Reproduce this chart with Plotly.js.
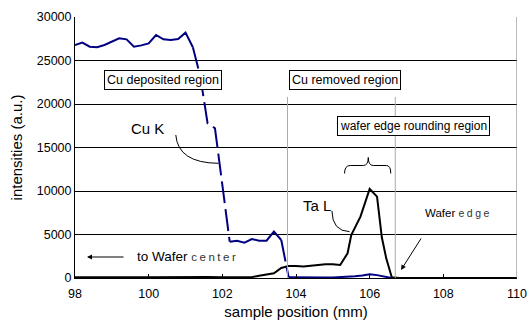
<!DOCTYPE html>
<html><head><meta charset="utf-8">
<script src="https://cdn.plot.ly/plotly-3.0.1.min.js"></script>
<style>body{margin:0;background:#fff}#c{width:529px;height:325px}</style>
</head><body><div id="c"></div>
<script>
// Cu K intensity (blue)
var cuX = [98.0,98.2,98.4,98.6,98.8,99.0,99.2,99.4,99.6,99.8,100.0,100.2,100.4,100.6,100.8,101.0,101.2,101.4,101.6,101.8,102.0,102.2,102.4,102.6,102.8,103.0,103.2,103.4,103.6,103.8,104.0,104.2,104.4,104.6,104.8,105.0,105.2,105.4,105.6,105.8,106.0,106.2,106.4,106.6];
var cuY = [26780,27050,26590,26520,26780,27160,27550,27430,26590,26740,26970,27930,27430,27360,27470,28200,26520,23200,17780,17210,10700,4170,4290,4060,4480,4290,4290,5330,4370,80,60,60,60,60,60,60,80,120,200,300,420,330,180,0];
// Ta L intensity (black)
var taX = [98.0,98.4,98.8,99.2,99.6,100.0,100.4,100.8,101.2,101.6,102.0,102.4,102.8,103.0,103.2,103.4,103.6,103.8,104.0,104.2,104.4,104.6,104.8,105.0,105.2,105.4,105.5,105.75,106.0,106.2,106.33,106.45,106.6,106.8,107.2,107.6,108.0,108.4,108.8,109.2,109.6,110.0];
var taY = [100,120,90,110,100,90,110,100,90,110,90,80,100,260,400,540,1150,1380,1380,1320,1420,1520,1570,1570,1490,2840,4940,7050,10230,9350,4680,2260,80,0,0,0,0,0,0,0,0,0];
var xTicks = [98,100,102,104,106,108,110];
var yTicks = [0,5000,10000,15000,20000,25000,30000];

// segments of the Cu curve that are drawn dashed (steep drops), by index ranges
var dashedRanges = [[16,21],[28,29]];
var solidRanges = [[0,16],[21,28],[29,cuX.length-1]];
var BLUE = '#000080';
var traces = [];
traces.push({x:taX, y:taY, mode:'lines', line:{color:'#000', width:2}, hoverinfo:'skip'});
solidRanges.forEach(function(r){
  traces.push({x:cuX.slice(r[0],r[1]+1), y:cuY.slice(r[0],r[1]+1), mode:'lines', line:{color:BLUE,width:2}, hoverinfo:'skip'});
});
dashedRanges.forEach(function(r){
  traces.push({x:cuX.slice(r[0],r[1]+1), y:cuY.slice(r[0],r[1]+1), mode:'lines', line:{color:BLUE,width:2,dash:'22px,6px'}, hoverinfo:'skip'});
});

// pixel -> data helpers for annotation geometry
var X0=75, XS=36.8, Y0=278, YS=8.7/1000;
function dx(px){return 98+(px-X0)/XS;}
function dy(py){return (Y0-py)/YS;}
function P(px,py){return dx(px)+','+dy(py);}

var FAM = '"Liberation Sans", Arial, sans-serif';
function F(s,c){return {family:FAM, color:c||'#000', size:s};}

var shapes = [
  {type:'line', xref:'x', yref:'y', x0:dx(287.3), x1:dx(287.3), y0:0, y1:dy(97), line:{color:'#aaa', width:1}},
  {type:'line', xref:'x', yref:'y', x0:dx(395), x1:dx(395), y0:0, y1:dy(97), line:{color:'#aaa', width:1}},
  {type:'line', xref:'x', yref:'y', x0:110, x1:110, y0:0, y1:30000, line:{color:'#777', width:1}},
  // curly brace over the Ta peak
  {type:'path', xref:'x', yref:'y', line:{color:'#000', width:1},
   path:'M'+P(344.3,173.5)+' Q'+P(344.3,165.5)+' '+P(350,165.5)+' L'+P(363,165.5)+' Q'+P(368,165.5)+' '+P(368,157.5)+' Q'+P(368,165.5)+' '+P(373,165.5)+' L'+P(386,165.5)+' Q'+P(390.5,165.5)+' '+P(390.5,173.5)},
  // leader for Cu K
  {type:'path', xref:'x', yref:'y', line:{color:'#000', width:1},
   path:'M'+P(175.7,135)+' Q'+P(178,163)+' '+P(218.3,163.3)},
  // leader for Ta L
  {type:'path', xref:'x', yref:'y', line:{color:'#000', width:1},
   path:'M'+P(331.7,211)+' Q'+P(332,231)+' '+P(349.3,231.7)}
];

var boxed = {bordercolor:'#000', borderwidth:1, bgcolor:'#fff', borderpad:2};
var annotations = [
  Object.assign({x:dx(162.5), y:dy(80), text:'Cu deposited region', showarrow:false, font:F(12.5)}, boxed),
  Object.assign({x:dx(344.5), y:dy(80), text:'Cu removed region', showarrow:false, font:F(12.5)}, boxed),
  Object.assign({x:dx(413.5), y:dy(126), text:'wafer edge rounding region', showarrow:false, font:F(12)}, boxed),
  {x:dx(147), y:dy(128), text:'Cu K', showarrow:false, font:F(15)},
  {x:dx(316.5), y:dy(205), text:'Ta L', showarrow:false, font:F(15)},
  {x:dx(135), y:dy(256), xanchor:'left', text:'to Wafer <span style="letter-spacing:2.5px;font-size:11.5px;fill:#333">center</span>', showarrow:false, font:F(13.5)},
  {x:dx(423), y:dy(213), xanchor:'left', text:'Wafer <span style="letter-spacing:2.5px;font-size:10.5px;fill:#333">edge</span>', showarrow:false, font:F(11.5)},
  {x:dx(87), y:dy(257), text:'', showarrow:true, arrowhead:2, arrowsize:1, arrowwidth:1, arrowcolor:'#000', ax:38, ay:0, standoff:0},
  {x:dx(400.7), y:dy(270), text:'', showarrow:true, arrowhead:2, arrowsize:1, arrowwidth:1, arrowcolor:'#000', ax:21, ay:-33, standoff:0}
];

var layout = {
  width:529, height:325,
  margin:{l:75, r:12, t:17, b:47},
  paper_bgcolor:'#fff', plot_bgcolor:'#fff',
  showlegend:false,
  font:F(12),
  xaxis:{range:[98,110], tickvals:xTicks, ticktext:xTicks.map(String), showgrid:false, zeroline:false,
         showline:true, linecolor:'#000', linewidth:1, ticks:'inside', ticklen:4, tickcolor:'#000',
         ticklabelstandoff:4, tickfont:F(12.5), title:{text:'sample position (mm)', font:F(15), standoff:6}},
  yaxis:{range:[0,30000], tickvals:yTicks, ticktext:yTicks.map(String), showgrid:true, gridcolor:'#000', gridwidth:1,
         zeroline:false, showline:true, linecolor:'#000', linewidth:1, ticks:'', tickfont:F(12.5),
         title:{text:'intensities (a.u.)', font:F(15), standoff:10}},
  shapes:shapes,
  annotations:annotations
};
Plotly.newPlot('c', traces, layout, {staticPlot:true, displayModeBar:false});
</script></body></html>
